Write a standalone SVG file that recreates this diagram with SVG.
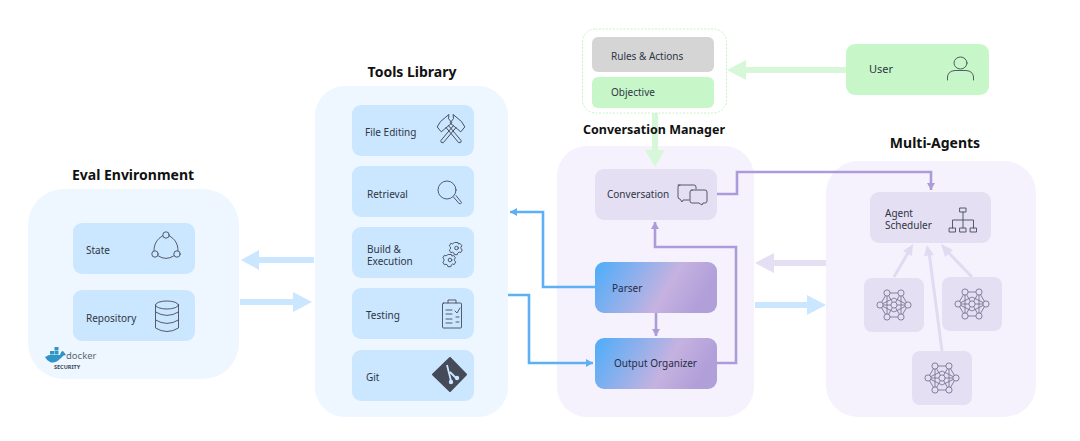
<svg xmlns="http://www.w3.org/2000/svg" xmlns:xlink="http://www.w3.org/1999/xlink" width="1080" height="441" viewBox="0 0 1080 441">
<style>
text{font-family:"Noto Sans","Open Sans","Liberation Sans",sans-serif;fill:#2f3644;font-size:10px}
.h{font-weight:700;font-size:14px;fill:#111;text-anchor:middle}
.pb{fill:#eef7ff}.pp{fill:#f6f2fd}.nb{fill:#cbe6ff}.np{fill:#e4dff2}.ng{fill:#c7f7c9}
.i{fill:none;stroke:#464c5a;stroke-width:.9;stroke-linejoin:round;stroke-linecap:round}
.blue{fill:none;stroke:#5cb0f5;stroke-width:2.6}
.pur{fill:none;stroke:#ab9cd9;stroke-width:2.6}
.nn{fill:none;stroke:#6f6788;stroke-width:.8}
</style>
<defs>
<linearGradient id="g" x1="0" y1="0" x2="1" y2="0.25"><stop offset="0" stop-color="#4cadfa"/><stop offset=".68" stop-color="#c6b2e0"/><stop offset="1" stop-color="#b09fd9"/></linearGradient>
<marker id="mb" markerWidth="10" markerHeight="8" refX="7" refY="4" orient="auto" markerUnits="userSpaceOnUse"><path d="M0 0L7 4L0 8Z" fill="#5cb0f5"/></marker>
<marker id="mp" markerWidth="10" markerHeight="8" refX="7" refY="4" orient="auto" markerUnits="userSpaceOnUse"><path d="M0 0L7 4L0 8Z" fill="#ab9cd9"/></marker>
<g id="net" class="nn">
<path d="M-7-12L-14 0L-7 12M7-12L14 0L7 12M-7-12L0 0L7 12M7-12L0 0L-7 12M-7-12L7-12M-7 12L7 12M-14 0L14 0M-7-12L-7 12M7-12L7 12M-14 0L0-7M14 0L0-7M-14 0L0 7M14 0L0 7"/>
<g fill="#e4dff2"><circle cx="-7" cy="-12" r="3.1"/><circle cx="7" cy="-12" r="3.1"/><circle cx="-14" cy="0" r="3.1"/><circle cx="0" cy="0" r="3.1"/><circle cx="14" cy="0" r="3.1"/><circle cx="-7" cy="12" r="3.1"/><circle cx="7" cy="12" r="3.1"/></g>
</g>
<g id="gear"><circle r="1.800"/><path d="M-1.500-5.500h3l.4 1.600 1.600-.7 2 2.500-1.200 1.300.2 1.600 1.300 1-1.600 2.800-1.600-.6-1.400 1.100-.3 1.600h-3l-.4-1.600-1.500-.9-1.600.6-1.600-2.800 1.200-1.100v-1.800l-1.200-1.100 1.600-2.800 1.600.7 1.400-1z"/></g>
<g id="hammer"><path d="M-1.600-6V14Q0 16 1.600 14V-6"/><path d="M-8-6V-12L-2-14H9L6-11V-6Z"/></g>
</defs>

<g id="connectors">
<path d="M314 260H251" stroke="#cbe6ff" stroke-width="6" fill="none"/><path d="M241 260L259 250V270Z" fill="#cbe6ff"/>
<path d="M240 302H296" stroke="#cbe6ff" stroke-width="6" fill="none"/><path d="M312 302L293 292V312Z" fill="#cbe6ff"/>
<path d="M846 70H740" stroke="#d6f8d8" stroke-width="6" fill="none"/><path d="M727 70L746 60V80Z" fill="#d6f8d8"/>
<path d="M655 113V155" stroke="#d6f8d8" stroke-width="6" fill="none"/>
</g>

<g id="eval-panel"><rect class="pb" x="28" y="189" width="211" height="190" rx="36"/><text class="h" x="133" y="180">Eval Environment</text></g>
<g id="state"><rect class="nb" x="73" y="223" width="122" height="51" rx="9"/><text x="86" y="254">State</text>
<g class="i"><circle cx="166" cy="235" r="3.2"/><circle cx="155" cy="254" r="3.2"/><circle cx="177" cy="254" r="3.2"/><path d="M162.500 236C157 239 154 244 154 250.500M169.500 236C175 239 178 244 178 250.500M158.500 256Q166 261 173.500 256"/></g></g>
<g id="repository"><rect class="nb" x="73" y="290" width="122" height="51" rx="9"/><text x="86" y="322">Repository</text>
<g class="i"><ellipse cx="167" cy="305" rx="11.500" ry="4"/><path d="M155.500 305V328Q167 335 178.500 328V305M155.500 312Q167 319 178.500 312M155.500 320Q167 327 178.500 320"/></g></g>
<g id="docker"><path d="M45 357L49 355H60Q61 351 63 351L65 353.500L66 355Q63 355 61 358Q55 364 50 362Q47 361 45 357Z" fill="#2f94c6"/><path d="M50 351h4v3.500h-4zM54.500 351h4v3.500h-4zM54.500 347h4v3.500h-4z" fill="#2f94c6"/><text x="66" y="359" style="font-size:9.500px;fill:#5a6672">docker</text><text x="54" y="369" style="font-size:5.500px;font-weight:700;fill:#3c4a58">SECURITY</text></g>

<g id="tools-panel"><rect class="pb" x="315" y="86" width="193" height="331" rx="30"/><text class="h" x="412" y="77">Tools Library</text></g>
<g id="file-editing"><rect class="nb" x="352" y="105" width="122" height="51" rx="9"/><text x="365" y="136">File Editing</text>
<g class="i"><g transform="translate(451 131) rotate(-40)"><use xlink:href="#hammer" href="#hammer"/></g><g transform="translate(451 131) rotate(40) scale(-1 1)"><use xlink:href="#hammer" href="#hammer"/></g></g></g>
<g id="retrieval"><rect class="nb" x="352" y="166" width="122" height="51" rx="9"/><text x="367" y="198">Retrieval</text>
<g class="i"><circle cx="447" cy="190" r="9"/><path d="M453.500 197L459 203.500Q461 204.500 461.500 202.500L456 195.500"/></g></g>
<g id="build"><rect class="nb" x="352" y="227" width="122" height="51" rx="9"/><text x="367" y="253">Build &amp;</text><text x="367" y="265">Execution</text>
<g class="i" transform="translate(456.500 248)"><use xlink:href="#gear" href="#gear"/></g><g class="i" transform="translate(450 260)"><use xlink:href="#gear" href="#gear"/></g></g>
<g id="testing"><rect class="nb" x="352" y="288" width="122" height="51" rx="9"/><text x="366" y="319">Testing</text>
<g class="i"><rect x="442.500" y="303" width="19" height="25" rx="1"/><path d="M448 303V300H456V303M446 310H452M446 314H452M446 319H452M446 323H452M455 311L457 313L460 308M456 317H459M456 322H459"/></g></g>
<g id="git"><rect class="nb" x="352" y="350" width="122" height="51" rx="9"/><text x="366" y="381">Git</text>
<path d="M450 358L466 374.500L450 391L433 374.500Z" fill="#444a57" stroke="#444a57" stroke-width="2" stroke-linejoin="round"/><path d="M447 365L451 381M450 372L456 378" stroke="#cbe6ff" stroke-width="1.800" fill="none"/><circle cx="451" cy="382" r="2.200" fill="#cbe6ff"/><circle cx="457" cy="378" r="2.200" fill="#cbe6ff"/></g>

<g id="conv-panel"><rect class="pp" x="557" y="146" width="197" height="271" rx="30"/></g>
<g id="prompt"><rect x="582.500" y="29" width="144" height="84" rx="13" fill="#fff" stroke="#c6f3c8" stroke-width="1" stroke-dasharray="2 1.500"/>
<rect x="592" y="37" width="122" height="35" rx="6" fill="#d5d5d5"/><text x="611" y="60">Rules &amp; Actions</text>
<rect class="ng" x="592" y="77" width="122" height="31" rx="6"/><text x="611" y="96">Objective</text></g>
<g id="user"><rect class="ng" x="846" y="44" width="143" height="51" rx="9"/><text x="869" y="73" style="font-size:11px">User</text>
<g class="i"><ellipse cx="960.500" cy="63" rx="6.500" ry="6"/><path d="M947.500 80V77Q948 71 955 70.500H966Q973 71 973.500 77V80"/></g></g>
<g id="conversation"><rect class="np" x="595" y="169" width="122" height="51" rx="9"/><text x="607" y="198">Conversation</text>
<g class="i"><path d="M678 185H694Q696 185 696 187V189M689 200H683L682 202L680 199Q678 199 678 197V187Q678 185 680 185"/><path d="M692 190H705Q707 190 707 192V201Q707 203 705 203H703L702 205L699 203H692Q690 203 690 201V192Q690 190 692 190Z"/></g></g>
<g id="parser"><rect fill="url(#g)" x="595" y="262" width="122" height="51" rx="9"/><text x="612" y="292" style="fill:#1f2c48">Parser</text></g>
<g id="output"><rect fill="url(#g)" x="595" y="338" width="122" height="51" rx="9"/><text x="614" y="367" style="fill:#1f2c48">Output Organizer</text></g>

<g id="multi-panel"><rect class="pp" x="826" y="161" width="210" height="256" rx="32"/><text class="h" x="935" y="148">Multi-Agents</text></g>
<g id="scheduler"><rect class="np" x="870" y="192" width="121" height="51" rx="9"/><text x="885" y="217">Agent</text><text x="885" y="229">Scheduler</text>
<g class="i" style="stroke-width:.9"><rect x="960" y="208" width="6" height="4"/><rect x="949.500" y="228" width="6" height="4"/><rect x="960" y="228" width="6" height="4"/><rect x="970.500" y="228" width="6" height="4"/><path d="M963 212V228M952.500 228V220H973.500V228"/></g></g>
<g id="agent-1"><rect class="np" x="864" y="278" width="60" height="54" rx="8"/><use xlink:href="#net" href="#net" x="894" y="305"/></g>
<g id="agent-2"><rect class="np" x="942" y="277" width="60" height="54" rx="8"/><use xlink:href="#net" href="#net" x="972" y="304"/></g>
<g id="agent-3"><rect class="np" x="912" y="351" width="60" height="54" rx="8"/><use xlink:href="#net" href="#net" x="942" y="378"/></g>

<g id="connectors-top">
<path d="M655 146V155" stroke="#d6f8d8" stroke-width="6" fill="none"/><path d="M655 167L645 150H665Z" fill="#d6f8d8"/>
<path d="M826 263H768" stroke="#e4dff2" stroke-width="6" fill="none"/><path d="M755 263L774 253V273Z" fill="#e4dff2"/>
<path d="M755 305H812" stroke="#cbe6ff" stroke-width="6" fill="none"/><path d="M826 305L807 295V315Z" fill="#cbe6ff"/>
<path class="blue" d="M595 287H543V212H510" marker-end="url(#mb)"/>
<path class="blue" d="M508 295H529V363H593" marker-end="url(#mb)"/>
<path class="pur" d="M717 194H737V172H931V190" marker-end="url(#mp)"/>
<path class="pur" d="M717 363H736V247H655V222" marker-end="url(#mp)"/>
<path class="pur" d="M656 313V336" marker-end="url(#mp)"/>
<path d="M894 277L909 251M972 277L946 250M942 351L929 252" stroke="#e1dbf1" stroke-width="3" fill="none"/>
<path d="M913 244L912 256L903 251ZM941 244L953 250L945 257ZM927 245L934 255L924 256Z" fill="#e1dbf1"/>
</g>
<text class="h" x="654" y="134" style="font-size:12.500px" id="conv-title">Conversation Manager</text>
</svg>
